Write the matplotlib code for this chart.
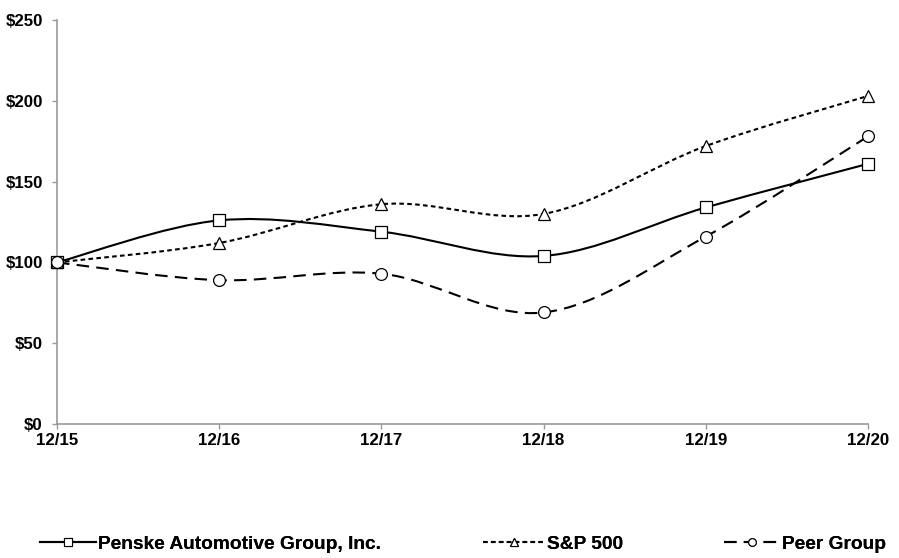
import matplotlib.pyplot as plt
import numpy as np
from matplotlib.path import Path
from matplotlib.patches import PathPatch
from matplotlib.lines import Line2D

years = ["12/15", "12/16", "12/17", "12/18", "12/19", "12/20"]
penske = [100, 126, 119, 104, 134, 161]
sp500 = [100, 112, 136, 130, 172, 203]
peer = [100, 89, 93, 69, 116, 178]
yticks = [0, 50, 100, 150, 200, 250]


def smooth_path(x, y):
    # Excel-style smoothed line: cubic bezier through every point
    pts = np.column_stack([x, y]).astype(float)
    n = len(pts)
    verts = [pts[0]]
    codes = [Path.MOVETO]
    for i in range(n - 1):
        p0 = pts[i - 1] if i > 0 else pts[i]
        p1 = pts[i]
        p2 = pts[i + 1]
        p3 = pts[i + 2] if i + 2 < n else pts[i + 1]
        c1 = p1 + (p2 - p0) / 6.0
        c2 = p2 - (p3 - p1) / 6.0
        verts += [c1, c2, p2]
        codes += [Path.CURVE4] * 3
    return Path(verts, codes)


fig = plt.figure(figsize=(8.99, 5.58), dpi=100)
ax = fig.add_axes([57 / 899, 1 - 424 / 558, (868 - 57) / 899, (424 - 20) / 558])

xs = np.arange(len(years))
series = [
    (penske, "-", "s", "Penske Automotive Group, Inc."),
    (sp500, (0, (2.2, 1.6)), "^", "S&P 500"),
    (peer, (0, (6, 3.5)), "o", "Peer Group"),
]

handles = []
for vals, ls, mk, name in series:
    patch = PathPatch(smooth_path(xs, vals), facecolor="none", edgecolor="black",
                      linewidth=1.5, linestyle=ls, transform=ax.transData, zorder=2,
                      clip_on=False)
    ax.add_patch(patch)
    ax.plot(xs, vals, linestyle="none", marker=mk, markersize=8.5, clip_on=False,
            markerfacecolor="white", markeredgecolor="black", markeredgewidth=0.9, zorder=3)
    handles.append(Line2D([], [], color="black", linestyle=ls, linewidth=1.5,
                          marker=mk, markersize=5.5, markerfacecolor="white",
                          markeredgewidth=0.8, label=name))

ax.set_xlim(0, len(years) - 1)
ax.set_ylim(0, 250)
ax.set_xticks(xs)
ax.set_xticklabels(years)
ax.set_yticks(yticks)
ax.set_yticklabels(["$%d" % v for v in yticks])
for s in ["top", "right"]:
    ax.spines[s].set_visible(False)
for s in ["left", "bottom"]:
    ax.spines[s].set_color("#999999")
    ax.spines[s].set_linewidth(1.2)
ax.tick_params(colors="#999999", length=3.6, width=1, labelcolor="black", labelsize=12.2)
for lab in ax.get_xticklabels() + ax.get_yticklabels():
    lab.set_fontfamily("Liberation Sans")
    lab.set_fontweight("bold")
ax.tick_params(axis="x", pad=3)
ax.tick_params(axis="y", pad=6.5)

# legend entries spread across the bottom
leg_x = [40, 483, 724]
leg_len = [2.9, 3.2, 2.9]
for h, x0, hl in zip(handles, leg_x, leg_len):
    lg = fig.legend(handles=[h], loc="center left", bbox_to_anchor=(x0 / 899, 1 - 544 / 558),
                    frameon=False, handlelength=hl, handletextpad=0.15, borderpad=0,
                    borderaxespad=0,
                    prop={"family": "Liberation Sans", "weight": "bold", "size": 13.8})
    fig.add_artist(lg)

fig.savefig("out.png", dpi=100)
